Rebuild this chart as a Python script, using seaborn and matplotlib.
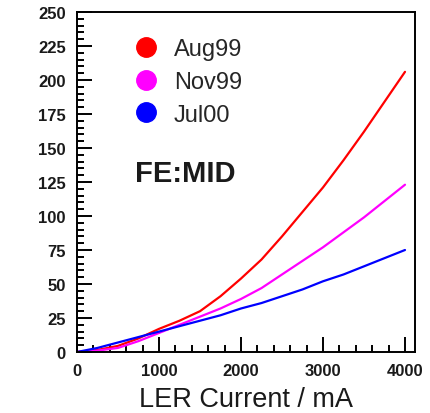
import numpy as np
import pandas as pd
import matplotlib
matplotlib.use("Agg")
import matplotlib.pyplot as plt
from matplotlib.lines import Line2D
from matplotlib.ticker import MultipleLocator
import seaborn as sns

current = [0, 250, 500, 750, 1000, 1250, 1500, 1750, 2000, 2250, 2500,
           2750, 3000, 3250, 3500, 3750, 4000]
aug99 = [0, 1.5, 4.5, 10, 17, 23, 30, 41, 54, 68, 85, 103, 121, 141, 162, 184, 206]
nov99 = [0, 1, 3, 8, 14, 20, 26, 32, 39, 47, 57, 67, 77, 88, 99, 111, 123]
jul00 = [0, 3, 7, 11, 15, 19, 23, 27, 32, 36, 41, 46, 52, 57, 63, 69, 75]
series_names = ["Aug99", "Nov99", "Jul00"]
colors = ["#ff0000", "#ff00ff", "#0000ff"]
annotation = "FE:MID"
xlabel = "LER Current / mA"

df = pd.concat([
    pd.DataFrame({"current": current, "value": v, "series": n})
    for v, n in zip([aug99, nov99, jul00], series_names)
])

sns.set_style("white")
plt.rcParams["font.family"] = ["Liberation Sans", "DejaVu Sans"]
plt.rcParams["xtick.major.pad"] = 8
plt.rcParams["ytick.major.pad"] = 8

fig = plt.figure(figsize=(4.30, 4.14), dpi=100)
ax = fig.add_axes([77/430, 61/414, 338/430, 340/414])

sns.lineplot(data=df, x="current", y="value", hue="series",
             palette=dict(zip(series_names, colors)), linewidth=1.6,
             legend=False, ax=ax)

ax.set_xlim(0, 4122)
ax.set_ylim(0, 250)
ax.xaxis.set_major_locator(MultipleLocator(1000))
ax.xaxis.set_minor_locator(MultipleLocator(200))
ax.yaxis.set_major_locator(MultipleLocator(25))
ax.yaxis.set_minor_locator(MultipleLocator(5))
ax.tick_params(which="major", direction="in", bottom=True, left=True,
               length=11, width=1.4, color="black", labelsize=12)
ax.tick_params(which="minor", direction="in", bottom=True, left=True,
               length=5, width=1.4, color="black")
for lab in ax.get_xticklabels() + ax.get_yticklabels():
    lab.set_fontweight("bold")
    lab.set_color("#1a1a1a")
for s in ax.spines.values():
    s.set_color("black")
    s.set_linewidth(1.4)

ax.set_xlabel(xlabel, fontsize=19.5, labelpad=6, color="#1a1a1a")
ax.set_ylabel("")

handles = [Line2D([], [], marker="o", linestyle="none", markersize=14,
                  markerfacecolor=c, markeredgecolor=c) for c in colors]
ax.legend(handles, series_names, loc="upper left",
          bbox_to_anchor=(0.14, 0.95), frameon=False, fontsize=17,
          handlelength=1.0, handletextpad=0.7, labelspacing=0.45,
          borderaxespad=0)

ax.text(0.172, 0.525, annotation, transform=ax.transAxes, fontsize=21,
        fontweight="bold", ha="left", va="center", color="#1a1a1a")

fig.savefig("out.png", dpi=100)
